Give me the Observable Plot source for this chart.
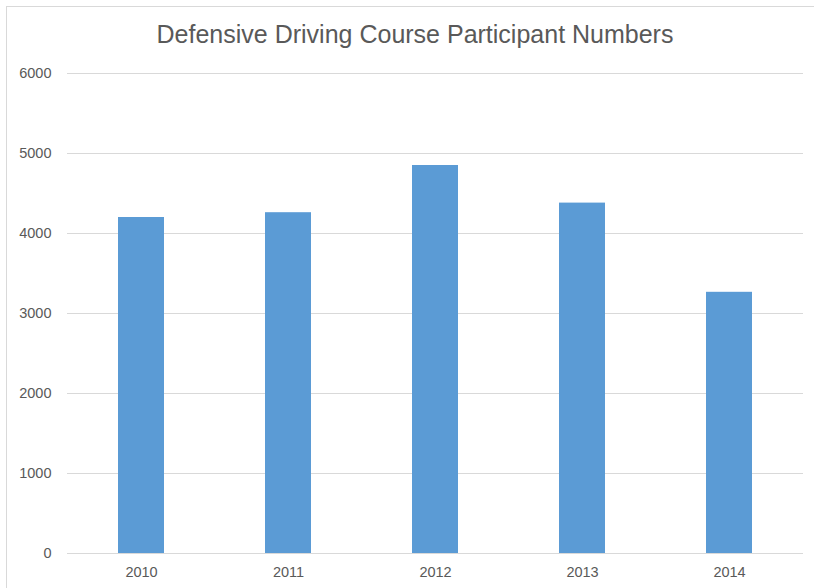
<!DOCTYPE html>
<html>
<head>
<meta charset="utf-8">
<script src="https://cdn.jsdelivr.net/npm/d3@7"></script>
<script src="https://cdn.jsdelivr.net/npm/@observablehq/plot@0.6"></script>
<style>
  html, body { margin: 0; padding: 0; background: #fff; }
  #wrap { position: relative; width: 814px; height: 588px; overflow: hidden; background: #fff; }
  #frame { position: absolute; left: 6px; top: 6px; right: -10px; bottom: -10px; border-top: 1.5px solid #d9d9d9; border-left: 1.5px solid #d9d9d9; pointer-events: none; }
  #title { height: 55px; margin: 0; box-sizing: border-box; text-align: center; font-family: "Liberation Sans", Arial, sans-serif; font-size: 25px; font-weight: normal; color: #595959; line-height: 68px; padding-left: 16px; }
  #chart svg { display: block; }
</style>
</head>
<body>
<div id="wrap">
  <div id="title">Defensive Driving Course Participant Numbers</div>
  <div id="chart"></div>
  <div id="frame"></div>
</div>
<script>
const years = ["2010", "2011", "2012", "2013", "2014"];
const participants = [4200, 4260, 4850, 4380, 3265];
const yTicks = [0, 1000, 2000, 3000, 4000, 5000, 6000];

const data = years.map((y, i) => ({year: y, value: participants[i]}));

const chart = Plot.plot({
  width: 814,
  height: 533,
  marginTop: 18,
  marginBottom: 35,
  marginLeft: 67,
  marginRight: 11,
  style: {fontFamily: "'Liberation Sans', Arial, sans-serif", fontSize: "14.5px", color: "#595959", background: "#fff"},
  x: {domain: years, paddingInner: 0.684, paddingOuter: 0.342, label: null, tickSize: 0, tickPadding: 13},
  y: {domain: [0, 6000], ticks: yTicks, label: null, tickSize: 0, tickPadding: 16, tickFormat: d => String(d)},
  marks: [
    Plot.gridY(yTicks, {stroke: "#d9d9d9", strokeOpacity: 1, strokeWidth: 1.2}),
    Plot.barY(data, {x: "year", y: "value", fill: "#5b9bd5"})
  ]
});
document.getElementById("chart").appendChild(chart);
</script>
</body>
</html>
